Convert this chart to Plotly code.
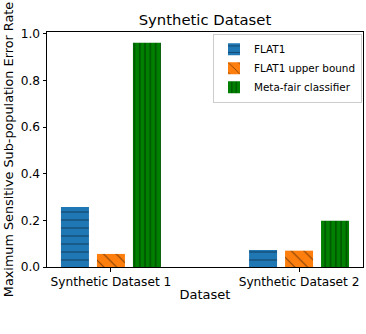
import plotly.graph_objects as go

categories = ["Synthetic Dataset 1", "Synthetic Dataset 2"]
flat1 = [0.257, 0.073]
flat1_upper = [0.056, 0.07]
meta_fair = [0.962, 0.198]
y_ticks = [0.0, 0.2, 0.4, 0.6, 0.8, 1.0]

fig = go.Figure()
fig.add_bar(name="FLAT1", x=categories, y=flat1,
            marker=dict(color="#1f77b4", line=dict(width=0),
                        pattern=dict(shape="-", fgcolor="black", bgcolor="#1f77b4", size=8, solidity=0.12)))
fig.add_bar(name="FLAT1 upper bound", x=categories, y=flat1_upper,
            marker=dict(color="#ff7f0e", line=dict(width=0),
                        pattern=dict(shape="\\", fgcolor="black", bgcolor="#ff7f0e", size=9, solidity=0.12)))
fig.add_bar(name="Meta-fair classifier", x=categories, y=meta_fair,
            marker=dict(color="#008000", line=dict(width=0),
                        pattern=dict(shape="|", fgcolor="black", bgcolor="#008000", size=5.3, solidity=0.2)))

fig.update_layout(
    width=366, height=334,
    margin=dict(l=47, r=3, t=32, b=67, autoexpand=False),
    paper_bgcolor="white", plot_bgcolor="white",
    barmode="group", bargap=0.426, bargroupgap=0.222,
    font=dict(family="DejaVu Sans", size=12.2, color="black"),
    title=dict(text="Synthetic Dataset", x=0.56, xanchor="center", y=1 - 19.5 / 334, yref="container",
               yanchor="middle", font=dict(size=14.8)),
    showlegend=True,
    legend=dict(x=(213 - 47) / 316, y=0.993, xanchor="left", yanchor="top",
                bgcolor="white", bordercolor="#cccccc", borderwidth=1,
                font=dict(size=10.4), itemwidth=30, tracegroupgap=0),
    xaxis=dict(type="category", range=[-0.34, 1.34], showline=True, linecolor="black",
               linewidth=1, mirror=True, ticks="outside", ticklen=3.5, tickcolor="black",
               automargin=False,
               title=dict(text="Dataset", font=dict(size=13), standoff=1), showgrid=False),
    yaxis=dict(range=[0, 1.008], tickvals=y_ticks, ticktext=[f"{v:.1f}" for v in y_ticks],
               showline=True, linecolor="black", linewidth=1, mirror=True, automargin=False,
               ticks="outside", ticklen=3.5, tickcolor="black", showgrid=False, zeroline=False,
               title=dict(text="Maximum Sensitive Sub-population Error Rate", font=dict(size=12.8), standoff=4)),
)

fig.write_html("out.html", config={"displayModeBar": False},
               post_script="document.body.style.margin='0';document.body.style.overflow='hidden';")
